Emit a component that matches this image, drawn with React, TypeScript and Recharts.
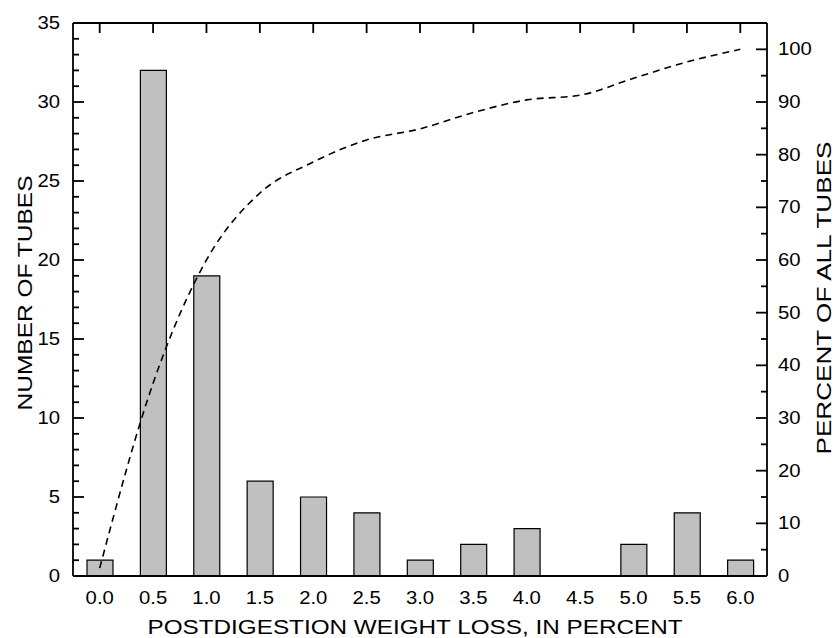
import React from "react";
import {
  Bar,
  ComposedChart,
  Line,
  XAxis,
  YAxis,
} from "recharts";

const lossCategories = ["0.0", "0.5", "1.0", "1.5", "2.0", "2.5", "3.0", "3.5", "4.0", "4.5", "5.0", "5.5", "6.0"];
const tubeCounts = [1, 32, 19, 6, 5, 4, 1, 2, 3, 0, 2, 4, 1];
const cumulativePercent = [1.5, 36.6, 60, 72.7, 78.6, 82.8, 84.9, 88, 90.4, 91.3, 94.5, 97.6, 100];

const leftMajorTicks = [0, 5, 10, 15, 20, 25, 30, 35];
const rightMajorTicks = [0, 10, 20, 30, 40, 50, 60, 70, 80, 90, 100];

// minor ticks: every 1 tube on the left, every 5 percent on the right
const leftTicks = Array.from({ length: 36 }, (_, i) => i);
const rightTicks = Array.from({ length: 21 }, (_, i) => i * 5);

const FONT = '"Liberation Sans", Arial, Helvetica, sans-serif';
const STRETCH = 1.16;
const AXIS_W = 1.8;

const data = lossCategories.map((cat, i) => ({
  cat,
  tubes: tubeCounts[i],
  pct: cumulativePercent[i],
}));

function LeftTick(props: any) {
  const x = Number(props.x);
  const y = Number(props.y);
  const value = props.payload?.value;
  const major = leftMajorTicks.includes(value);
  return (
    <g>
      <path d={`M${x},${y}H${x + (major ? 11 : 6)}`} stroke="#000" strokeWidth={AXIS_W} fill="none" />
      {major && (
        <text
          transform={`translate(${x - 13},${y + 6}) scale(${STRETCH},1)`}
          textAnchor="end"
          fontSize={17.5}
          fontFamily={FONT}
          fill="#000"
          stroke="none"
        >
          {value}
        </text>
      )}
    </g>
  );
}

function RightTick(props: any) {
  const x = Number(props.x);
  const y = Number(props.y);
  const value = props.payload?.value;
  const major = rightMajorTicks.includes(value);
  return (
    <g>
      <path d={`M${x},${y}H${x - (major ? 11 : 6)}`} stroke="#000" strokeWidth={AXIS_W} fill="none" />
      {major && (
        <text
          transform={`translate(${x + 11},${y + 6}) scale(${STRETCH},1)`}
          textAnchor="start"
          fontSize={17.5}
          fontFamily={FONT}
          fill="#000"
          stroke="none"
        >
          {value}
        </text>
      )}
    </g>
  );
}

function BottomTick(props: any) {
  const x = Number(props.x);
  const y = Number(props.y);
  return (
    <text
      transform={`translate(${x},${y + 27.5}) scale(${STRETCH},1)`}
      textAnchor="middle"
      fontSize={17.5}
      fontFamily={FONT}
      fill="#000"
      stroke="none"
    >
      {props.payload?.value}
    </text>
  );
}

function TopTick(props: any) {
  const x = Number(props.x);
  const y = Number(props.y);
  return <path d={`M${x},${y}V${y + 10}`} stroke="#000" strokeWidth={AXIS_W} fill="none" />;
}

export default function App() {
  return (
    <div style={{ position: "absolute", left: 0, top: 0, width: 835, height: 638, background: "#fff" }}>
      <ComposedChart
        width={835}
        height={638}
        data={data}
        margin={{ top: 22, right: 0, bottom: 0, left: 0 }}
        barCategoryGap={0}
        accessibilityLayer={false}
      >
        <XAxis
          xAxisId="bottom"
          dataKey="cat"
          height={62}
          interval={0}
          tickLine={false}
          tickSize={0}
          tickMargin={0}
          tick={<BottomTick />}
          axisLine={{ stroke: "#000", strokeWidth: AXIS_W }}
        />
        <XAxis
          xAxisId="top"
          dataKey="cat"
          orientation="top"
          height={1}
          interval={0}
          tickLine={false}
          tickSize={0}
          tickMargin={0}
          tick={<TopTick />}
          axisLine={{ stroke: "#000", strokeWidth: AXIS_W }}
        />
        <YAxis
          yAxisId="left"
          width={73}
          domain={[0, 35]}
          ticks={leftTicks}
          interval={0}
          tickLine={false}
          tickSize={0}
          tickMargin={0}
          tick={<LeftTick />}
          axisLine={{ stroke: "#000", strokeWidth: AXIS_W }}
        />
        <YAxis
          yAxisId="right"
          orientation="right"
          width={68}
          domain={[0, 105]}
          ticks={rightTicks}
          interval={0}
          tickLine={false}
          tickSize={0}
          tickMargin={0}
          tick={<RightTick />}
          axisLine={{ stroke: "#000", strokeWidth: AXIS_W }}
        />
        <Bar
          xAxisId="bottom"
          yAxisId="left"
          dataKey="tubes"
          barSize={26}
          fill="#c0c0c0"
          stroke="#000"
          strokeWidth={1.2}
          isAnimationActive={false}
        />
        <Line
          xAxisId="top"
          yAxisId="right"
          dataKey="pct"
          type="monotone"
          stroke="#000"
          strokeWidth={1.6}
          strokeDasharray="7 5"
          dot={false}
          activeDot={false}
          isAnimationActive={false}
        />
      </ComposedChart>
      <svg
        width={835}
        height={638}
        style={{ position: "absolute", left: 0, top: 0, pointerEvents: "none" }}
      >
        <text
          transform="translate(32,293) rotate(-90)"
          textAnchor="middle"
          fontSize={20}
          fontFamily={FONT}
          textLength={235}
          lengthAdjust="spacingAndGlyphs"
        >
          NUMBER OF TUBES
        </text>
        <text
          transform="translate(831,298) rotate(-90)"
          textAnchor="middle"
          fontSize={20}
          fontFamily={FONT}
          textLength={313}
          lengthAdjust="spacingAndGlyphs"
        >
          PERCENT OF ALL TUBES
        </text>
        <text
          x={415}
          y={634}
          textAnchor="middle"
          fontSize={20}
          fontFamily={FONT}
          textLength={535}
          lengthAdjust="spacingAndGlyphs"
        >
          POSTDIGESTION WEIGHT LOSS, IN PERCENT
        </text>
      </svg>
    </div>
  );
}
